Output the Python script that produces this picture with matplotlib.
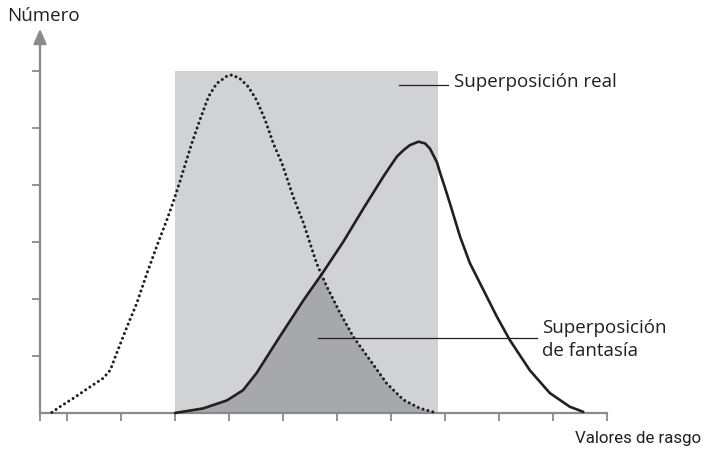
import numpy as np
import matplotlib.pyplot as plt

plt.rcParams['font.family'] = ['Open Sans', 'DejaVu Sans']

# curva punteada (población 1)
dot_x = [0.22, 0.37, 0.62, 0.93, 1.17, 1.30, 1.42, 1.61, 1.79, 1.98, 2.16, 2.35,
         2.47, 2.59, 2.81, 2.96, 3.12, 3.27, 3.46, 3.55, 3.70, 3.86, 4.01, 4.17,
         4.32, 4.48, 4.69, 4.88, 5.12, 5.31, 5.56, 5.80, 6.11, 6.42, 6.73, 7.04, 7.35]
dot_y = [0.01, 0.11, 0.26, 0.46, 0.61, 0.75, 1.05, 1.51, 1.92, 2.45, 2.92, 3.39,
         3.71, 4.06, 4.73, 5.14, 5.55, 5.78, 5.91, 5.93, 5.87, 5.72, 5.49, 5.14,
         4.73, 4.38, 3.79, 3.33, 2.63, 2.22, 1.75, 1.34, 0.93, 0.52, 0.23, 0.08, 0.0]

# curva continua (población 2)
sol_x = [2.50, 3.02, 3.46, 3.76, 4.01, 4.44, 4.88, 5.25, 5.62, 5.99, 6.36, 6.48,
         6.61, 6.73, 6.85, 7.01, 7.13, 7.22, 7.35, 7.41, 7.50, 7.59, 7.78, 7.96,
         8.21, 8.46, 8.70, 9.07, 9.44, 9.81, 10.06]
sol_y = [0.0, 0.08, 0.22, 0.40, 0.70, 1.34, 1.98, 2.48, 3.01, 3.59, 4.15, 4.32,
         4.50, 4.61, 4.70, 4.76, 4.73, 4.64, 4.40, 4.21, 3.95, 3.68, 3.09, 2.63,
         2.16, 1.69, 1.28, 0.75, 0.35, 0.11, 0.02]

real_x0, real_x1, real_top = 2.5, 7.37, 6.0

x_ticks = [0, 0.5, 1.5, 2.5, 3.5, 4.5, 5.5, 6.5, 7.5, 8.5, 9.5, 10.5]
y_ticks = [1, 2, 3, 4, 5, 6]

ink = '#231f20'
axis_gray = '#8a8a8c'

fig = plt.figure(figsize=(7.04, 4.49), dpi=100)
ax = fig.add_axes([0, 0, 1, 1])
ax.set_xlim(-0.741, 12.296)
ax.set_ylim(-0.632, 7.246)
ax.patch.set_visible(False)

# superposición real
ax.fill_between([real_x0, real_x1], 0, real_top, color='#d1d2d4', lw=0, zorder=1)

# superposición de fantasía (zona bajo ambas curvas)
grid = np.linspace(real_x0, real_x1, 500)
low = np.minimum(np.interp(grid, dot_x, dot_y), np.interp(grid, sol_x, sol_y, left=0, right=0))
ax.fill_between(grid, 0, low, color='#a7a8ab', lw=0, zorder=2)

ax.plot(dot_x, dot_y, color=ink, lw=2.2, linestyle=(0, (0.01, 1.65)),
        dash_capstyle='round', zorder=4)
ax.plot(sol_x, sol_y, color=ink, lw=1.9, solid_capstyle='round',
        solid_joinstyle='round', zorder=4)

# ejes
for s in ['top', 'right']:
    ax.spines[s].set_visible(False)
ax.spines['left'].set_position(('data', 0))
ax.spines['bottom'].set_position(('data', 0))
ax.spines['left'].set_bounds(0, 6.5)
ax.spines['bottom'].set_bounds(0, 10.5)
for s in ['left', 'bottom']:
    ax.spines[s].set_color(axis_gray)
    ax.spines[s].set_linewidth(1.6)
    ax.spines[s].set_zorder(3)
ax.set_xticks(x_ticks)
ax.set_yticks(y_ticks)
ax.tick_params(direction='out', length=6, width=1.3, color=axis_gray,
               labelbottom=False, labelleft=False)
ax.annotate('', xy=(0, 6.74), xytext=(0, 6.4),
            arrowprops=dict(arrowstyle='-|>,head_length=0.9,head_width=0.4',
                            color=axis_gray, lw=1.6, shrinkA=0, shrinkB=0))

fs = 13.5
ax.text(-0.611, 6.877, 'Número', fontsize=fs, color=ink, va='baseline')
ax.text(12.25, -0.532, 'Valores de rasgo', fontsize=12.2, color=ink, va='baseline',
        ha='right', family=['Roboto', 'DejaVu Sans'])

ax.plot([6.65, 7.56], [5.754, 5.754], color=ink, lw=0.9, zorder=5)
ax.text(7.667, 5.72, 'Superposición real', fontsize=fs, color=ink, va='baseline')

ax.plot([5.148, 9.20], [1.316, 1.316], color=ink, lw=0.9, zorder=5)
ax.text(9.30, 1.404, 'Superposición', fontsize=fs, color=ink, va='baseline')
ax.text(9.30, 1.0, 'de fantasía', fontsize=fs, color=ink, va='baseline')

fig.savefig('out.png', dpi=100)
